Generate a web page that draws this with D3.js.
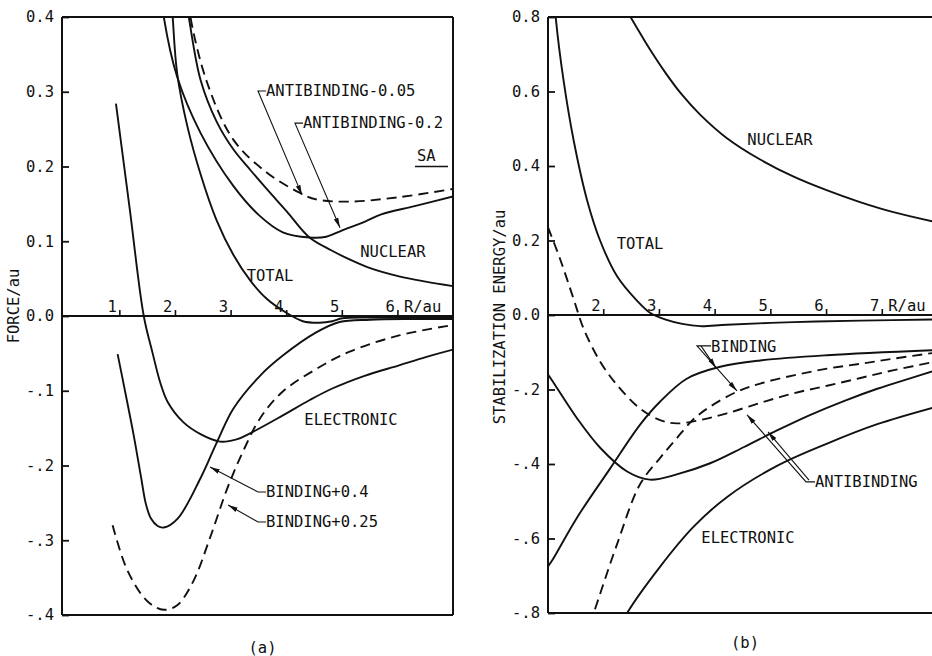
<!DOCTYPE html>
<html><head><meta charset="utf-8">
<script src="https://cdn.jsdelivr.net/npm/d3@7"></script>
<style>body{margin:0;background:#fff}</style>
</head><body>
<svg id="c" width="932" height="656"></svg>
<script>
// ---------- Panel (a): FORCE ----------
const aTicksY = [0.4, 0.3, 0.2, 0.1, 0.0, -0.1, -0.2, -0.3, -0.4];
const aTickLabelsY = ["0.4", "0.3", "0.2", "0.1", "0.0", "-.1", "-.2", "-.3", "-.4"];
const aTicksX = [1, 2, 3, 4, 5, 6];
const aTickLabelsX = ["1", "2", "3", "4", "5", "6"];

const aNuclear = [[2.2,0.42],[2.24,0.4],[2.45,0.316],[2.74,0.26],[3.04,0.223],[3.35,0.195],[3.64,0.17],[4.0,0.14],[4.41,0.105],[4.8,0.088],[5.12,0.076],[5.5,0.064],[6.02,0.053],[6.5,0.046],[6.99,0.04]];
const aTotal = [[1.93,0.42],[1.95,0.4],[2.03,0.325],[2.21,0.255],[2.45,0.19],[2.74,0.128],[3.04,0.082],[3.35,0.047],[3.64,0.023],[4.0,0.004],[4.29,-0.007],[4.59,-0.009],[4.82,-0.007],[5.0,-0.003],[5.5,-0.002],[6.0,-0.002],[6.99,-0.002]];
const aElectronic = [[0.93,0.284],[1.18,0.142],[1.43,0.0],[1.59,-0.05],[1.73,-0.09],[1.86,-0.115],[2.14,-0.142],[2.45,-0.158],[2.8,-0.168],[3.1,-0.165],[3.34,-0.157],[3.93,-0.133],[4.4,-0.113],[4.82,-0.097],[5.4,-0.08],[6.02,-0.066],[6.5,-0.055],[6.99,-0.045]];
const aAnti005 = [[2.25,0.42],[2.27,0.4],[2.57,0.312],[3.04,0.236],[3.64,0.192],[4.23,0.165],[4.53,0.156],[5.12,0.153],[6.02,0.159],[6.99,0.17]];
const aAnti02 = [[1.76,0.42],[1.79,0.4],[2.03,0.32],[2.45,0.245],[3.04,0.174],[3.5,0.135],[3.93,0.112],[4.41,0.105],[4.71,0.106],[4.98,0.114],[5.4,0.126],[5.7,0.136],[6.3,0.147],[6.99,0.16]];
const aBind04 = [[0.96,-0.051],[1.1,-0.103],[1.25,-0.16],[1.38,-0.215],[1.47,-0.252],[1.56,-0.271],[1.68,-0.281],[1.79,-0.283],[2.04,-0.271],[2.45,-0.217],[2.75,-0.168],[3.04,-0.124],[3.52,-0.08],[3.93,-0.053],[4.53,-0.022],[4.95,-0.008],[5.5,-0.005],[6.2,-0.004],[6.99,-0.004]];
const aBind025 = [[0.87,-0.28],[1.14,-0.341],[1.5,-0.382],[1.79,-0.393],[2.03,-0.387],[2.32,-0.355],[2.62,-0.297],[2.93,-0.231],[3.21,-0.182],[3.52,-0.137],[3.93,-0.101],[4.53,-0.071],[5.12,-0.048],[6.02,-0.026],[6.99,-0.012]];

const aLabels = [
  {text:"TOTAL", R:3.70, v:0.0535, anchor:"middle"},
  {text:"NUCLEAR", R:5.91, v:0.0856, anchor:"middle"},
  {text:"ELECTRONIC", R:5.156, v:-0.139, anchor:"middle"},
  {text:"ANTIBINDING-0.05", R:3.628, v:0.301, anchor:"start"},
  {text:"ANTIBINDING-0.2", R:4.293, v:0.258, anchor:"start"},
  {text:"SA", R:6.342, v:0.214, anchor:"start"},
  {text:"BINDING+0.4", R:3.628, v:-0.2355, anchor:"start"},
  {text:"BINDING+0.25", R:3.628, v:-0.2756, anchor:"start"}
];
const aArrows = [
  {pts:[[3.628,0.301],[3.484,0.301],[4.275,0.162]]},
  {pts:[[4.293,0.258],[4.149,0.258],[4.958,0.118]]},
  {pts:[[3.628,-0.2355],[3.484,-0.2355],[2.621,-0.202]]},
  {pts:[[3.628,-0.2756],[3.484,-0.2756],[2.945,-0.2528]]}
];
const aSaLine = [[6.306,0.2],[6.9,0.2]];

// ---------- Panel (b): STABILIZATION ENERGY ----------
const bTicksY = [0.8, 0.6, 0.4, 0.2, 0.0, -0.2, -0.4, -0.6, -0.8];
const bTickLabelsY = ["0.8", "0.6", "0.4", "0.2", "0.0", "-.2", "-.4", "-.6", "-.8"];
const bTicksX = [2, 3, 4, 5, 6, 7];
const bTickLabelsX = ["2", "3", "4", "5", "6", "7"];

const bNuclear = [[2.4,0.82],[2.6,0.77],[2.8,0.72],[3.1,0.652],[3.4,0.592],[3.73,0.538],[4.2,0.476],[4.8,0.418],[5.4,0.372],[6.0,0.335],[6.6,0.303],[7.2,0.276],[8.0,0.248]];
const bTotal = [[1.12,0.84],[1.14,0.797],[1.28,0.629],[1.46,0.469],[1.7,0.309],[1.94,0.198],[2.24,0.104],[2.6,0.038],[2.83,0.006],[3.1,-0.012],[3.41,-0.024],[3.73,-0.03],[4.21,-0.026],[5.41,-0.019],[6.61,-0.015],[8.0,-0.012]];
const bAntiDashed = [[1.0,0.235],[1.04,0.22],[1.22,0.149],[1.46,0.043],[1.64,-0.037],[1.94,-0.126],[2.24,-0.188],[2.65,-0.251],[3.01,-0.282],[3.31,-0.291],[3.73,-0.282],[4.21,-0.264],[4.81,-0.236],[5.41,-0.21],[6.01,-0.19],[6.61,-0.169],[7.21,-0.148],[8.0,-0.124]];
const bBindDashed = [[1.75,-0.83],[1.82,-0.8],[2.24,-0.615],[2.65,-0.455],[3.01,-0.384],[3.31,-0.331],[3.61,-0.28],[3.91,-0.246],[4.39,-0.206],[4.81,-0.184],[5.41,-0.162],[6.01,-0.144],[6.61,-0.131],[7.21,-0.117],[8.0,-0.1]];
const bBindSolid = [[1.0,-0.675],[1.07,-0.66],[1.52,-0.544],[2.12,-0.411],[2.65,-0.295],[3.01,-0.233],[3.49,-0.171],[4.09,-0.139],[4.81,-0.122],[6.01,-0.108],[8.0,-0.094]];
const bAntiSolid = [[1.0,-0.16],[1.07,-0.175],[1.52,-0.277],[1.94,-0.357],[2.42,-0.42],[2.83,-0.442],[3.31,-0.428],[3.91,-0.398],[4.51,-0.355],[5.11,-0.31],[5.71,-0.268],[6.31,-0.231],[6.91,-0.198],[7.5,-0.17],[8.0,-0.147]];
const bElectronic = [[2.32,-0.83],[2.42,-0.8],[3.01,-0.676],[3.61,-0.569],[4.21,-0.489],[5.11,-0.405],[6.01,-0.345],[6.91,-0.293],[8.0,-0.245]];

const bLabels = [
  {text:"NUCLEAR", R:5.164, v:0.47, anchor:"middle"},
  {text:"TOTAL", R:2.651, v:0.19, anchor:"middle"},
  {text:"ELECTRONIC", R:4.59, v:-0.599, anchor:"middle"},
  {text:"BINDING", R:3.926, v:-0.086, anchor:"start"},
  {text:"ANTIBINDING", R:5.792, v:-0.448, anchor:"start"}
];
const bArrows = [
  {pts:[[3.926,-0.083],[3.674,-0.083],[4.392,-0.204]]},
  {pts:[[3.746,-0.083],[4.015,-0.142]]},
  {pts:[[5.792,-0.448],[5.631,-0.448],[4.572,-0.268]]},
  {pts:[[5.685,-0.443],[4.949,-0.314]]}
];

// ---------- drawing ----------
const FONT = "'DejaVu Sans Mono','Liberation Mono',monospace";
const FS = 15.5;
const INK = "#111";
const svg = d3.select("#c");

const defs = svg.append("defs");
defs.append("marker").attr("id","ah").attr("viewBox","0 0 10 6")
  .attr("refX",10).attr("refY",3).attr("markerWidth",10).attr("markerHeight",6)
  .attr("markerUnits","userSpaceOnUse").attr("orient","auto")
  .append("path").attr("d","M0,0.6 L10,3 L0,5.4 Z").attr("fill",INK);

function panel(cfg) {
  const {x, y, id} = cfg;
  const [x0, x1] = x.range();
  const [yb, yt] = y.range();
  defs.append("clipPath").attr("id", id).append("rect")
    .attr("x", x0).attr("y", yt).attr("width", x1 - x0).attr("height", yb - yt);
  const g = svg.append("g");

  const fr = g.append("g").attr("stroke", INK).attr("stroke-width", 2).attr("fill","none");
  fr.append("line").attr("x1", x0).attr("x2", x1).attr("y1", yt).attr("y2", yt);
  fr.append("line").attr("x1", x0).attr("x2", x0).attr("y1", yt).attr("y2", yb);
  fr.append("line").attr("x1", x0).attr("x2", x1).attr("y1", yb).attr("y2", yb);
  if (cfg.rightFrame) fr.append("line").attr("x1", x1).attr("x2", x1).attr("y1", yt).attr("y2", yb);
  fr.append("line").attr("x1", x0).attr("x2", x1).attr("y1", y(0)).attr("y2", y(0)).attr("stroke-width",1.8);

  const yAxis = d3.axisLeft(y).tickValues(cfg.ticksY).tickSize(-7).tickPadding(8)
    .tickFormat((d,i) => cfg.tickLabelsY[i]);
  const ya = g.append("g").attr("transform", `translate(${x0},0)`).call(yAxis);
  ya.select(".domain").remove();
  ya.selectAll("line").attr("stroke", INK).attr("stroke-width", 1.8);
  ya.selectAll("text").attr("font-family", FONT).attr("font-size", FS).attr("fill", INK);

  const xg = g.append("g");
  cfg.ticksX.forEach((t, i) => {
    xg.append("line").attr("x1", x(t)).attr("x2", x(t)).attr("y1", y(0)).attr("y2", y(0) - 6)
      .attr("stroke", INK).attr("stroke-width", 1.6);
    xg.append("text").attr("x", x(t) - 3).attr("y", y(0) - 4).attr("text-anchor","end")
      .attr("font-family", FONT).attr("font-size", FS).attr("fill", INK).text(cfg.tickLabelsX[i]);
  });
  const last = cfg.ticksX[cfg.ticksX.length - 1];
  xg.append("text").attr("x", x(last) + 6).attr("y", y(0) - 4)
    .attr("font-family", FONT).attr("font-size", FS).attr("fill", INK).text("R/au");

  g.append("text").attr("transform", `translate(${cfg.titleX},${cfg.titleY}) rotate(-90)`)
    .attr("text-anchor","middle").attr("dominant-baseline","central")
    .attr("font-family", FONT).attr("font-size", FS).attr("fill", INK).text(cfg.title);

  const line = d3.line().x(d => x(d[0])).y(d => y(d[1])).curve(d3.curveCatmullRom.alpha(0.5));
  const cg = g.append("g").attr("clip-path", `url(#${id})`);
  cfg.series.forEach(s => {
    cg.append("path").datum(s.data).attr("d", line).attr("fill","none")
      .attr("stroke", INK).attr("stroke-width", 1.9)
      .attr("stroke-dasharray", s.dashed ? "10,6" : null)
      .attr("stroke-linejoin","round");
  });

  cfg.labels.forEach(l => {
    g.append("text").attr("x", x(l.R)).attr("y", y(l.v)).attr("text-anchor", l.anchor)
      .attr("dominant-baseline","central").attr("font-family", FONT).attr("font-size", FS)
      .attr("fill", INK).text(l.text);
  });
  const straight = d3.line().x(d => x(d[0])).y(d => y(d[1]));
  cfg.arrows.forEach(a => {
    g.append("path").attr("d", straight(a.pts)).attr("fill","none")
      .attr("stroke", INK).attr("stroke-width", 1.1).attr("marker-end","url(#ah)");
  });
  return g;
}

const xA = d3.scaleLinear().domain([-0.04, 6.99]).range([62, 453]);
const yA = d3.scaleLinear().domain([-0.4, 0.4]).range([615, 17]);
const gA = panel({
  id:"clipA", x:xA, y:yA, rightFrame:true,
  ticksY:aTicksY, tickLabelsY:aTickLabelsY, ticksX:aTicksX, tickLabelsX:aTickLabelsX,
  title:"FORCE/au", titleX:14, titleY:306,
  series:[
    {data:aNuclear},{data:aTotal},{data:aElectronic},{data:aAnti02},
    {data:aBind04},{data:aAnti005, dashed:true},{data:aBind025, dashed:true}
  ],
  labels:aLabels, arrows:aArrows
});
gA.append("path").attr("d", d3.line().x(d => xA(d[0])).y(d => yA(d[1]))(aSaLine))
  .attr("stroke", INK).attr("stroke-width", 1.5).attr("fill","none");

const xB = d3.scaleLinear().domain([1, 8]).range([548, 938]);
const yB = d3.scaleLinear().domain([-0.8, 0.8]).range([613, 17]);
panel({
  id:"clipB", x:xB, y:yB, rightFrame:false,
  ticksY:bTicksY, tickLabelsY:bTickLabelsY, ticksX:bTicksX, tickLabelsX:bTickLabelsX,
  title:"STABILIZATION ENERGY/au", titleX:500, titleY:317,
  series:[
    {data:bNuclear},{data:bTotal},{data:bBindSolid},{data:bAntiSolid},{data:bElectronic},
    {data:bAntiDashed, dashed:true},{data:bBindDashed, dashed:true}
  ],
  labels:bLabels, arrows:bArrows
});

svg.append("text").attr("x", (xA.range()[0] + xA.range()[1]) / 2 + 5).attr("y", 648)
  .attr("text-anchor","middle").attr("dominant-baseline","central")
  .attr("font-family", FONT).attr("font-size", FS).attr("fill", INK).text("(a)");
svg.append("text").attr("x", 745).attr("y", 643)
  .attr("text-anchor","middle").attr("dominant-baseline","central")
  .attr("font-family", FONT).attr("font-size", FS).attr("fill", INK).text("(b)");
</script></body></html>
